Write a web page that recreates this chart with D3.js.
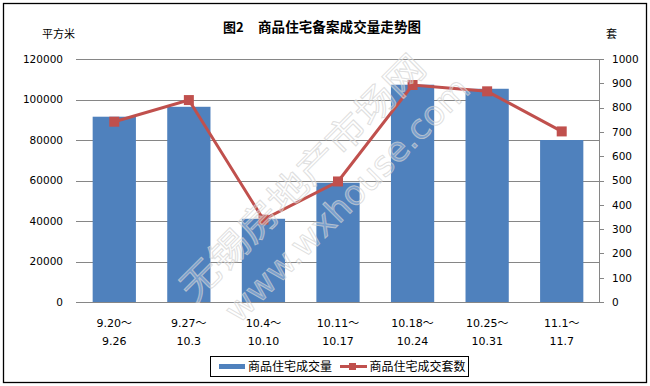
<!DOCTYPE html>
<html><head><meta charset="utf-8">
<script src="https://cdn.jsdelivr.net/npm/d3@7/dist/d3.min.js"></script>
<style>body{margin:0;background:#fff}svg{display:block}</style>
</head><body>
<svg id="c" width="650" height="386"></svg>
<script>
const categories = [["9.20～","9.26"],["9.27～","10.3"],["10.4～","10.10"],["10.11～","10.17"],["10.18～","10.24"],["10.25～","10.31"],["11.1～","11.7"]];
const areaValues = [91500, 96400, 41100, 58900, 107300, 105300, 80000];
const unitValues = [742, 831, 339, 496, 893, 867, 702];
const leftTicks = [0,20000,40000,60000,80000,100000,120000];
const rightTicks = [0,100,200,300,400,500,600,700,800,900,1000];
const seriesNames = ["商品住宅成交量","商品住宅成交套数"];

const svg = d3.select("#c");
const numFont = "'DejaVu Sans','Noto Sans CJK SC',sans-serif";
const cjk = "'Noto Sans CJK SC','DejaVu Sans',sans-serif";
const blue = "#4F81BD", red = "#C0504D", grid = "#868686";

svg.append("rect").attr("x",3.5).attr("y",3.5).attr("width",643).attr("height",379)
  .attr("fill","#fff").attr("stroke","#000").attr("stroke-width",1.3);

const x = d3.scaleBand().domain(d3.range(categories.length)).range([77,599]).paddingInner(0.42).paddingOuter(0.21);
const yL = d3.scaleLinear().domain([0,120000]).range([302,59]);
const yR = d3.scaleLinear().domain([0,1000]).range([302,59]);

// gridlines + left axis labels
const gl = svg.append("g").attr("transform","translate(599,0)").call(
  d3.axisLeft(yL).tickValues(leftTicks).tickSize(523).tickFormat(""));
gl.select(".domain").remove();
gl.selectAll(".tick line").attr("stroke",grid).attr("shape-rendering","crispEdges");

svg.append("g").selectAll("text").data(leftTicks).join("text")
  .attr("x",63).attr("y",d=>yL(d)).attr("dy","0.36em").attr("text-anchor","end")
  .attr("font-family",numFont).attr("font-size",10.5).attr("fill","#000").text(d=>d);

// right axis
const ar = svg.append("g").attr("transform","translate(599,0)").call(
  d3.axisRight(yR).tickValues(rightTicks).tickFormat(d3.format("d")).tickSize(5).tickPadding(8).tickSizeOuter(0));
ar.select(".domain").attr("stroke",grid).attr("shape-rendering","crispEdges");
ar.selectAll(".tick line").attr("stroke",grid).attr("shape-rendering","crispEdges");
ar.selectAll(".tick text").attr("font-family",numFont).attr("font-size",10.5).attr("fill","#000");

// bars
svg.append("g").selectAll("rect").data(areaValues).join("rect")
  .attr("x",(d,i)=>x(i)).attr("width",x.bandwidth())
  .attr("y",d=>yL(d)).attr("height",d=>yL(0)-yL(d)).attr("fill",blue);

// line
const cx = i => x(i)+x.bandwidth()/2;
svg.append("path").datum(unitValues)
  .attr("d", d3.line().x((d,i)=>cx(i)).y(d=>yR(d)))
  .attr("fill","none").attr("stroke",red).attr("stroke-width",3);
svg.append("g").selectAll("rect").data(unitValues).join("rect")
  .attr("x",(d,i)=>cx(i)-5).attr("y",d=>yR(d)-5).attr("width",10).attr("height",10).attr("fill",red);

// bottom axis line
svg.append("line").attr("x1",76).attr("x2",599).attr("y1",302.5).attr("y2",302.5).attr("stroke",grid);

// x labels
const xl = svg.append("g").selectAll("text").data(categories).join("text")
  .attr("x",(d,i)=>cx(i)).attr("text-anchor","middle")
  .attr("font-family",numFont).attr("font-size",11).attr("fill","#000");
xl.append("tspan").attr("x",(d,i)=>cx(i)).attr("y",327).text(d=>d[0]);
xl.append("tspan").attr("x",(d,i)=>cx(i)).attr("y",345).text(d=>d[1]);

// watermark
const wm = svg.append("g").attr("transform","translate(200,280) rotate(-45)")
  .attr("fill","rgba(255,255,255,0.25)").attr("stroke","rgba(210,210,210,0.7)").attr("stroke-width",1);
wm.append("text").attr("x",-20).attr("y",0).attr("dy","0.35em").attr("font-family",cjk)
  .attr("font-size",36).attr("textLength",330).attr("lengthAdjust","spacingAndGlyphs").text("无锡房地产市场网");
wm.append("text").attr("x",-4).attr("y",47).attr("dy","0.35em").attr("font-family",numFont)
  .attr("font-size",34).attr("textLength",330).attr("lengthAdjust","spacingAndGlyphs").text("www.wxhouse.com");

// titles
svg.append("text").attr("x",223).attr("y",31.5).attr("font-family",cjk).attr("font-weight","bold")
  .attr("font-size",13).attr("fill","#000").text("图2");
svg.append("text").attr("x",258).attr("y",31.5).attr("font-family",cjk).attr("font-weight","bold")
  .attr("font-size",13.5).attr("textLength",163).attr("lengthAdjust","spacing").attr("fill","#000").text("商品住宅备案成交量走势图");
svg.append("text").attr("x",42).attr("y",37.5).attr("font-family",cjk).attr("font-size",11).attr("fill","#000").text("平方米");
svg.append("text").attr("x",606).attr("y",37.5).attr("font-family",cjk).attr("font-size",11).attr("fill","#000").text("套");

// legend
const lg = svg.append("g");
lg.append("rect").attr("x",210.5).attr("y",356.5).attr("width",258).attr("height",20).attr("fill","#fff").attr("stroke","#000");
lg.append("rect").attr("x",219).attr("y",364).attr("width",26).attr("height",5).attr("fill",blue);
lg.append("text").attr("x",248).attr("y",371).attr("font-family",cjk).attr("font-size",12).attr("fill","#000").text(seriesNames[0]);
lg.append("line").attr("x1",340).attr("x2",367).attr("y1",366.5).attr("y2",366.5).attr("stroke",red).attr("stroke-width",3);
lg.append("rect").attr("x",349).attr("y",363).attr("width",7).attr("height",7).attr("fill",red);
lg.append("text").attr("x",369.5).attr("y",371).attr("font-family",cjk).attr("font-size",12).attr("fill","#000").text(seriesNames[1]);
</script>
</body></html>
